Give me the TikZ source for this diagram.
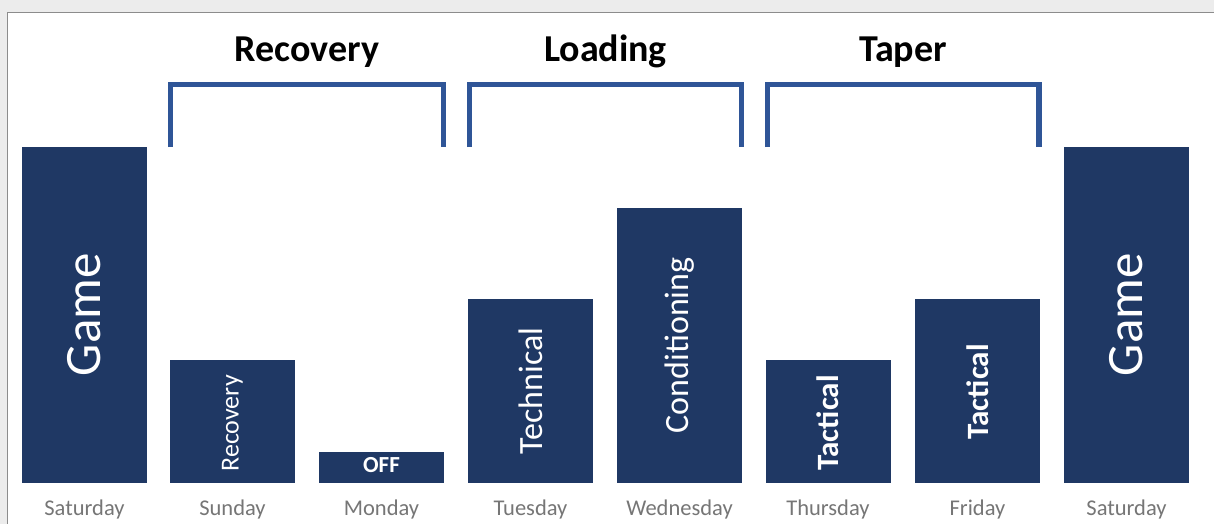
\documentclass[tikz,border=0pt]{standalone}
\usepackage{fontspec}
\setmainfont{Carlito}
\definecolor{barnavy}{RGB}{31,56,100}
\definecolor{brblue}{RGB}{47,85,151}
\definecolor{daygray}{RGB}{118,118,118}
\definecolor{bggray}{RGB}{236,236,236}
\definecolor{framegray}{RGB}{140,140,140}
\tikzset{
  bar/.style={fill=barnavy, draw=none, inner sep=0pt, minimum width=125pt, anchor=south},
  barlabel/.style={text=white, rotate=90, inner sep=0pt, anchor=center},
  daylabel/.style={text=daygray, anchor=base, inner sep=0pt, font=\fontsize{22.5}{26}\selectfont},
  phase/.style={text=black, anchor=base, inner sep=0pt, font=\bfseries\fontsize{38}{44}\selectfont},
  bracket/.style={draw=brblue, line width=5.5pt, line cap=butt, line join=miter}
}
\begin{document}
\begin{tikzpicture}[x=1pt,y=-1pt]
\useasboundingbox (0,0) rectangle (1214,524);
\fill[bggray] (0,0) rectangle (1214,524);
\filldraw[fill=white, draw=framegray, line width=1.5pt] (7.5,12.5) rectangle (1230,540);

% bars
\node[bar, minimum height=336pt] (game1) at (84.5,483) {};
\node[bar, minimum height=123pt] (sun) at (232.5,483) {};
\node[bar, minimum height=31pt] (mon) at (381.5,483) {};
\node[bar, minimum height=184pt] (tue) at (530.5,483) {};
\node[bar, minimum height=275pt] (wed) at (679.5,483) {};
\node[bar, minimum height=123pt] (thu) at (828,483) {};
\node[bar, minimum height=184pt] (fri) at (977.5,483) {};
\node[bar, minimum height=336pt] (game2) at (1126.5,483) {};

% bar labels
\node[barlabel, font=\fontsize{51}{60}\selectfont] (tgame1) at (game1.center) {Game};
\node[barlabel, font=\fontsize{26}{30}\selectfont] (tsun) at ([yshift=-2pt]sun.center) {Recovery};
\node[text=white, inner sep=0pt, font=\bfseries\fontsize{23}{27}\selectfont] (tmon) at ([yshift=2pt]mon.center) {OFF};
\node[barlabel, font=\fontsize{34}{40}\selectfont] (ttue) at (tue.center) {Technical};
\node[barlabel, font=\fontsize{34}{40}\selectfont] (twed) at (wed.center) {Conditioning};
\node[barlabel, font=\bfseries\fontsize{31}{36}\selectfont] (tthu) at ([yshift=-1.5pt]thu.center) {Tactical};
\node[barlabel, font=\bfseries\fontsize{31}{36}\selectfont] (tfri) at ([yshift=-1pt]fri.center) {Tactical};
\node[barlabel, font=\fontsize{51}{60}\selectfont] (tgame2) at (game2.center) {Game};

% day labels
\node[daylabel] (d1) at (84.5,515) {Saturday};
\node[daylabel] (d2) at (232.5,515) {Sunday};
\node[daylabel] (d3) at (381.5,515) {Monday};
\node[daylabel] (d4) at (530.5,515) {Tuesday};
\node[daylabel] (d5) at (679.5,515) {Wednesday};
\node[daylabel] (d6) at (828,515) {Thursday};
\node[daylabel] (d7) at (977.5,515) {Friday};
\node[daylabel] (d8) at (1126.5,515) {Saturday};

% brackets
\draw[bracket] (170.5,147) -- (170.5,84.5) -- (443.5,84.5) -- (443.5,147);
\draw[bracket] (469.5,147) -- (469.5,84.5) -- (741.5,84.5) -- (741.5,147);
\draw[bracket] (767.5,147) -- (767.5,84.5) -- (1039,84.5) -- (1039,147);

% phase titles
\node[phase] (p1) at (307,62) {Recovery};
\node[phase] (p2) at (605.5,62) {Loading};
\node[phase] (p3) at (903,62) {Taper};
\end{tikzpicture}
\end{document}
